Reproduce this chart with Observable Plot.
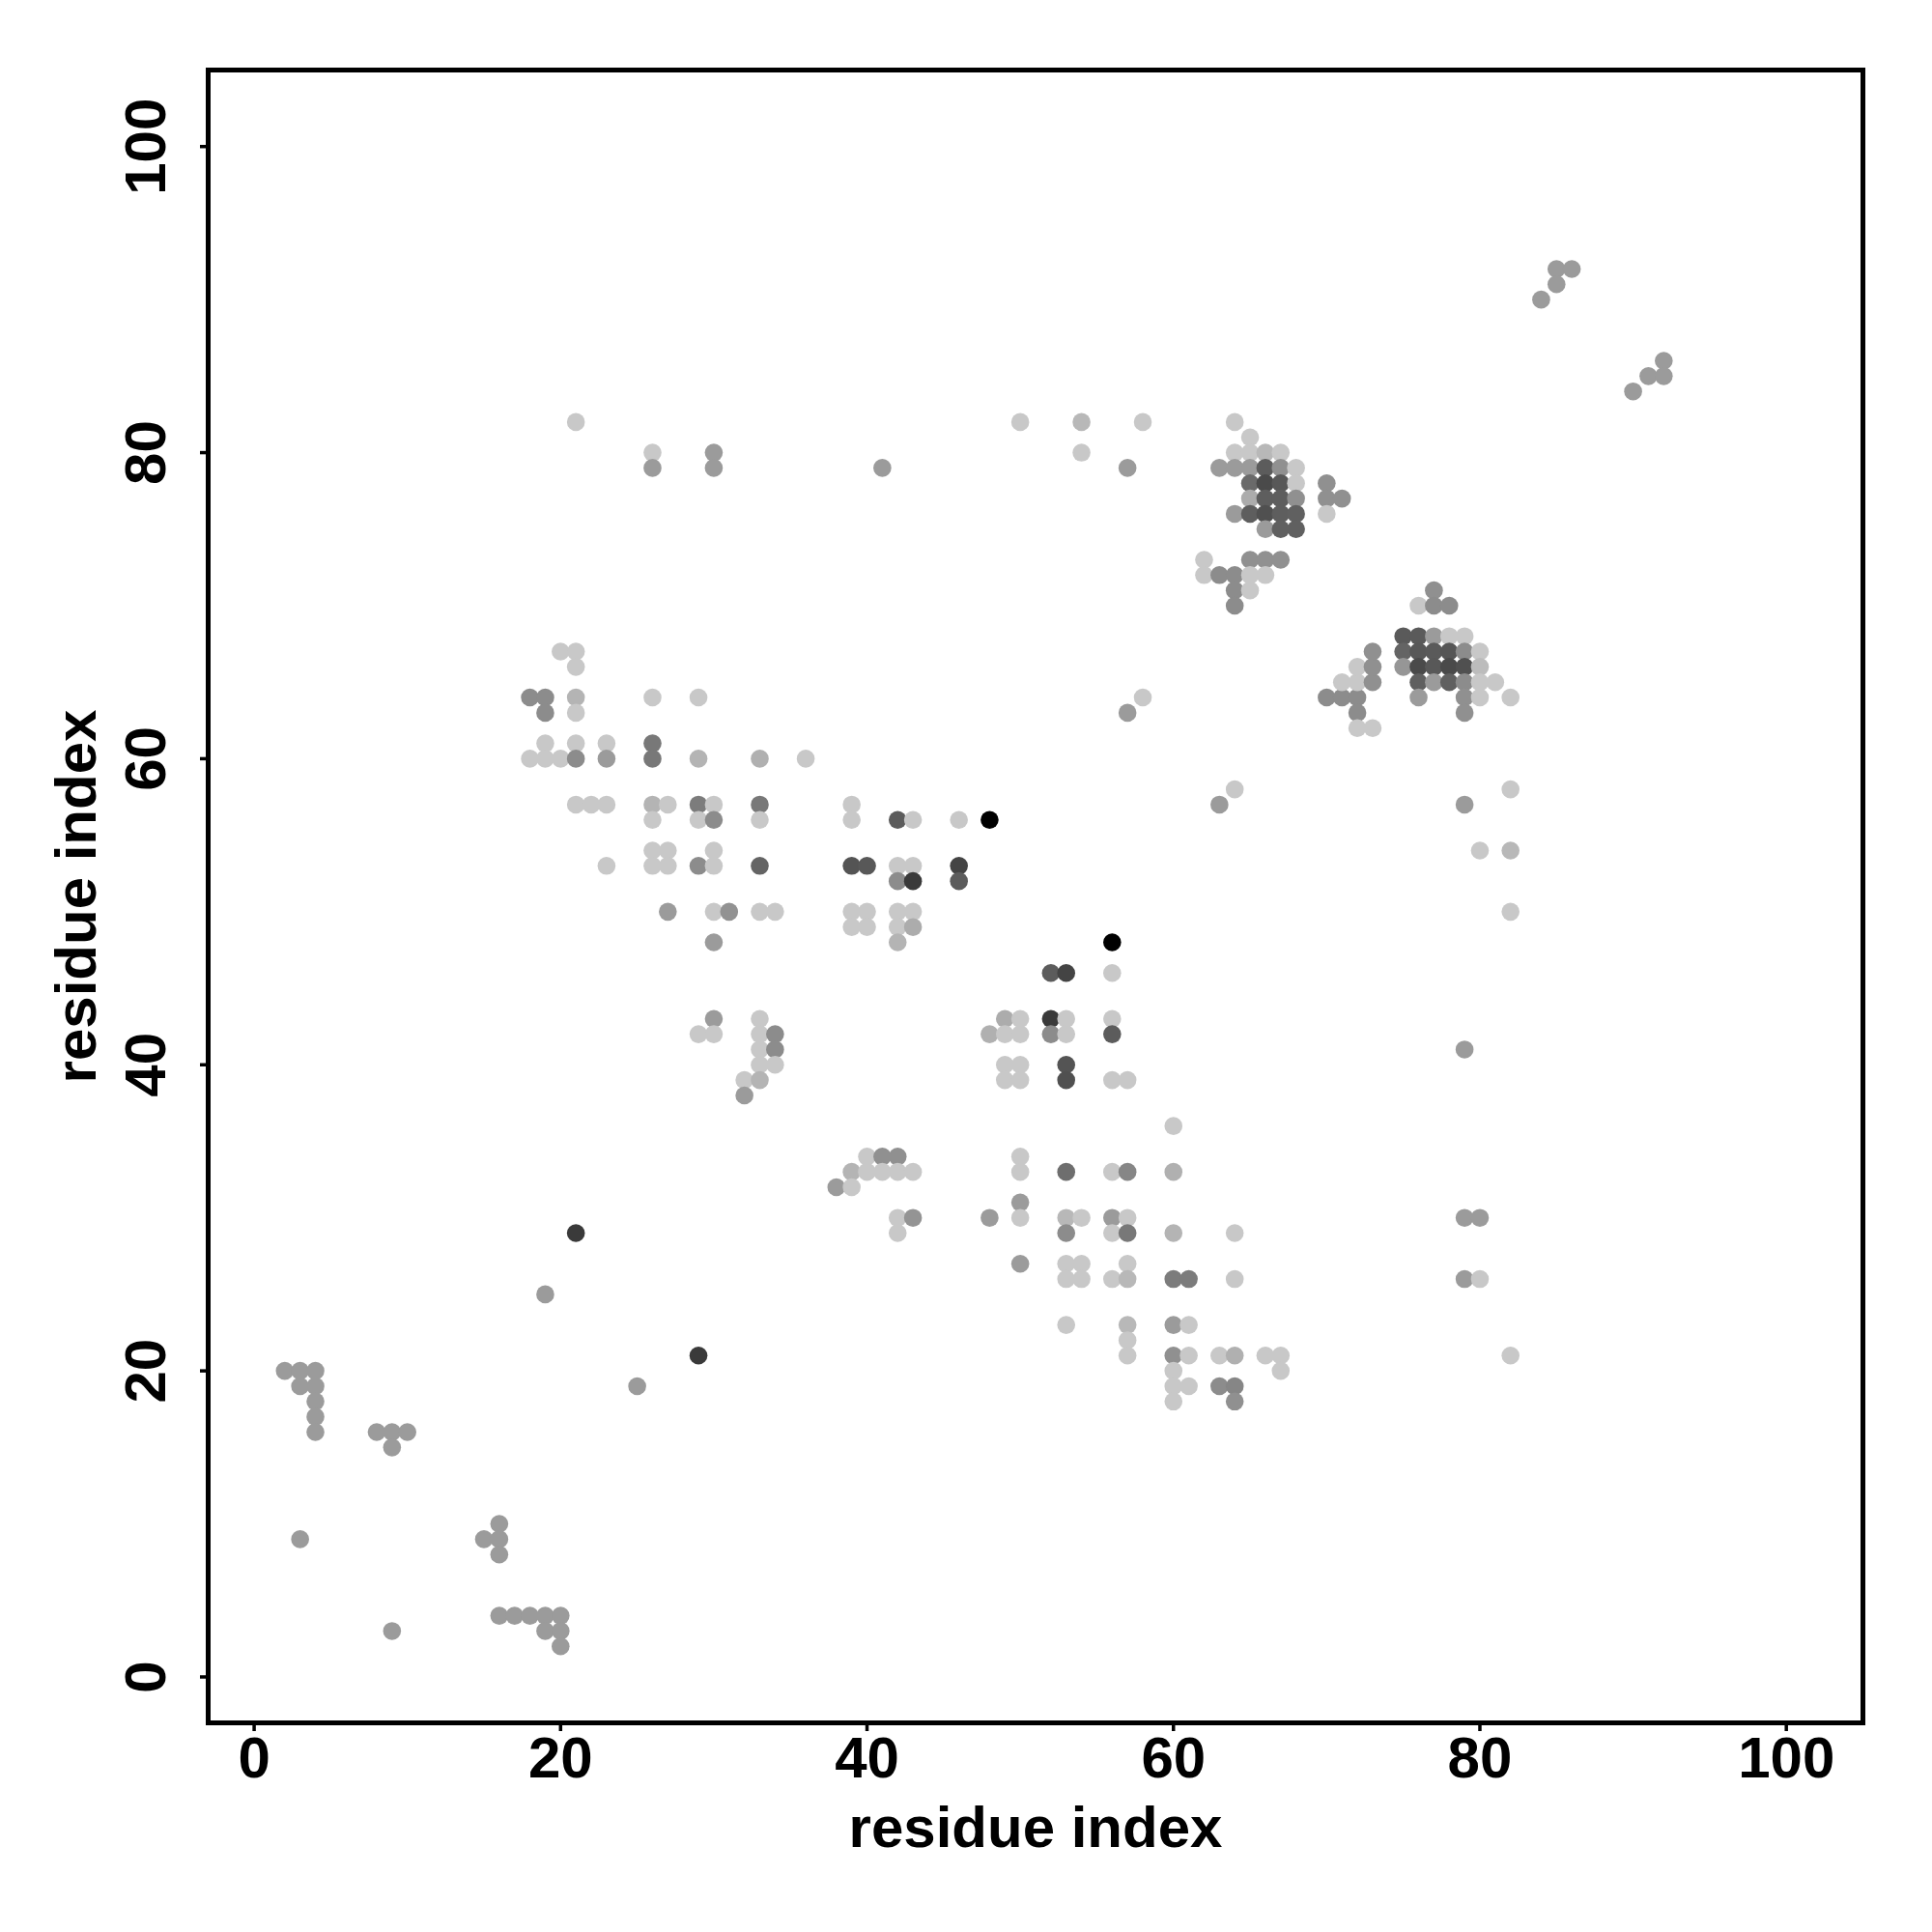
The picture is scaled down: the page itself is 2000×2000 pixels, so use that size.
<!DOCTYPE html>
<html><head><meta charset="utf-8">
<script src="https://cdn.jsdelivr.net/npm/d3@7"></script>
<script src="https://cdn.jsdelivr.net/npm/@observablehq/plot@0.6"></script>
<style>body{margin:0;background:#fff}</style>
</head><body><div id="chart"></div>
<script>
// [residue i, residue j, contact score]
const lowLeft = [[2,20,.225],[3,20,.225],[4,20,.225],[3,19,.225],[4,19,.225],[4,18,.225],[4,17,.225],[4,16,.225],
[8,16,.225],[9,16,.225],[10,16,.225],[9,15,.225],[19,25,.225],[21,29,.71],[25,19,.225],[29,21,.71],
[3,9,.225],[16,10,.225],[15,9,.225],[16,9,.225],[16,8,.225],
[9,3,.225],[16,4,.225],[17,4,.225],[18,4,.225],[19,4,.225],[20,4,.225],[19,3,.225],[20,3,.225],[20,2,.225]];
const leftMid = [[20,67,0],[21,67,0],[21,66,0],
[18,64,.3],[19,64,.3],[19,63,.3],[21,64,.1],[21,63,0],[26,64,0],[29,64,0],
[19,61,0],[21,61,0],[23,61,0],[26,61,.4],
[18,60,0],[19,60,0],[20,60,0],[21,60,.3],[23,60,.225],[26,60,.4],[29,60,.1],[33,60,.12],[36,60,0],
[21,57,0],[22,57,0],[23,57,0],[26,57,.1],[27,57,0],[26,56,0],[29,57,.38],[30,57,0],[29,56,0],[30,56,.3],[33,57,.4],[33,56,0],
[23,53,0],[26,54,0],[27,54,0],[26,53,0],[27,53,0],[30,54,0],[29,53,.3],[30,53,0],[33,53,.5],
[27,50,.225],[30,50,0],[31,50,.27],[33,50,0],[34,50,0],[30,48,.225],
[30,43,.225],[29,42,0],[30,42,0],[33,43,0],[33,42,0],[34,42,.3],[33,41,0],[34,41,.3],[33,40,0],[34,40,0],[32,39,0],[33,39,.1],[32,38,.225]];
const center = [[57,63,.225],[58,64,0],
[39,57,0],[39,56,0],[42,56,.54],[43,56,0],[46,56,0],[48,56,1],
[39,53,.58],[40,53,.56],[42,53,0],[43,53,0],[42,52,.3],[43,52,.71],[46,53,.66],[46,52,.54],
[39,50,0],[40,50,0],[39,49,0],[40,49,0],[42,50,0],[43,50,0],[42,49,0],[43,49,.14],[42,48,.1],
[56,48,1],[52,46,.54],[53,46,.66],[56,46,0],
[49,43,.14],[50,43,0],[48,42,.12],[49,42,0],[50,42,0],[52,43,.71],[53,43,0],[52,42,.3],[53,42,0],[56,43,0],[56,42,.54],
[49,40,0],[50,40,0],[53,40,.58]];
const lowMid = [[49,39,0],[50,39,0],[53,39,.6],[56,39,0],[57,39,0],[60,36,0],
[40,34,0],[41,34,.28],[42,34,.28],[39,33,.1],[40,33,0],[41,33,0],[42,33,0],[43,33,0],[38,32,.225],[39,32,0],
[50,34,0],[50,33,0],[53,33,.45],[56,33,0],[57,33,.33],[60,33,.12],
[42,30,0],[43,30,.26],[42,29,0],[48,30,.225],[50,31,.225],[50,30,0],[53,30,.08],[54,30,0],[53,29,.3],[56,30,.225],[57,30,0],[56,29,0],[57,29,.4],[60,29,.1],[64,29,0],
[50,27,.225],[53,27,0],[54,27,0],[53,26,0],[54,26,0],[57,27,0],[56,26,0],[57,26,.08],[60,26,.38],[61,26,.38],[64,26,0],
[53,23,0],[57,23,.08],[57,22,0],[57,21,0],[60,23,.225],[61,23,0],[60,21,.28],[61,21,0],[63,21,0],[64,21,.12],[66,21,0],[67,21,0],[67,20,0],
[60,20,0],[60,19,0],[61,19,0],[60,18,0],[63,19,.3],[64,19,.33],[64,18,.28]];
const rightScatter = [[79,41,.225],[79,30,.225],[80,30,.225],[79,26,.225],[80,26,0],[82,21,0],
[82,58,0],[79,57,.225],[80,54,0],[82,54,.08],[82,50,0],[63,57,.225],[64,58,0]];
const upperCluster = [[58,82,0],[57,79,.225],[64,82,0],[65,81,0],[64,80,0],[65,80,0],[66,80,.08],[67,80,0],
[63,79,.225],[64,79,.225],[65,79,.225],[66,79,.54],[67,79,.28],[68,79,0],
[65,78,.47],[66,78,.63],[67,78,.56],[68,78,0],
[65,77,.14],[66,77,.53],[67,77,.53],[68,77,.28],
[64,76,.225],[65,76,.53],[66,76,.6],[67,76,.53],[68,76,.52],
[66,75,.225],[67,75,.52],[68,75,.52],
[70,78,.28],[70,77,.28],[71,77,.28],[70,76,0],
[62,73,0],[62,72,0],[63,72,.3],[64,72,.3],[65,73,.28],[66,73,.28],[67,73,.28],[65,72,0],[66,72,0],[64,71,.3],[65,71,0],[64,70,.3]];
const rightCluster = [[70,64,.3],[71,64,.3],[72,64,.3],[72,63,.3],[72,62,0],[73,62,0],[71,65,0],[72,65,0],[72,66,0],[73,65,.28],[73,66,.28],[73,67,.28],
[75,68,.55],[75,67,.5],[75,66,.25],
[77,71,.28],[76,70,0],[77,70,.3],[78,70,.3],
[76,68,.55],[77,68,.225],[78,68,0],[79,68,0],
[76,67,.56],[77,67,.55],[78,67,.57],[79,67,.3],[80,67,0],
[76,66,.63],[77,66,.56],[78,66,.63],[79,66,.6],[80,66,.06],
[76,65,.52],[77,65,.225],[78,65,.52],[79,65,.3],[80,65,0],[81,65,0],
[76,64,.225],[79,64,.28],[80,64,0],[82,64,0],[79,63,.28]];
const topRow = [[21,82,0],[26,80,0],[26,79,.225],[30,80,.225],[30,79,.225],[41,79,.225],[50,82,0],[54,82,.08],[54,80,0]];
const farRight = [[85,92,.225],[86,92,.225],[85,91,.225],[84,90,.225],[92,86,.225],[91,85,.225],[92,85,.225],[90,84,.225]];

const xTicks = [0, 20, 40, 60, 80, 100];
const yTicks = [0, 20, 40, 60, 80, 100];
const xTitle = "residue index";
const yTitle = "residue index";

const data = [lowLeft, leftMid, center, lowMid, rightScatter, upperCluster, rightCluster, topRow, farRight]
  .flat().map(([i, j, score]) => ({i, j, score}));

const font = "'Liberation Sans', Arial, Helvetica, sans-serif";
const chart = Plot.plot({
  width: 2000, height: 2000,
  marginLeft: 215, marginRight: 72, marginTop: 72, marginBottom: 217,
  x: {domain: [-3, 105]},
  y: {domain: [-3, 105]},
  color: {type: "linear", domain: [0, 1], range: ["#c8c8c8", "#000000"]},
  style: {fontFamily: font, background: "white", color: "black"},
  marks: [
    Plot.dot(data, {x: "i", y: "j", r: 9.3, fill: "score"}),
    Plot.frame({stroke: "black", strokeWidth: 5}),
    Plot.axisX(xTicks, {tickSize: 9, tickPadding: 5, strokeWidth: 3.5, fontSize: 60, fontWeight: "bold", fill: "black", label: null}),
    Plot.axisY(yTicks, {tickSize: 8, strokeWidth: 3.5, fill: "none", label: null}),
    Plot.text(yTicks, {y: d => d, text: d => String(d), frameAnchor: "left", dx: -64, rotate: -90,
      textAnchor: "middle", lineAnchor: "middle", fontSize: 60, fontWeight: "bold", fill: "black"}),
    Plot.text([xTitle], {frameAnchor: "bottom", dy: 109, textAnchor: "middle", lineAnchor: "middle", fontSize: 60, fontWeight: "bold", fill: "black"}),
    Plot.text([yTitle], {frameAnchor: "left", dx: -136, rotate: -90, textAnchor: "middle", lineAnchor: "middle", fontSize: 60, fontWeight: "bold", fill: "black"})
  ]
});
document.getElementById("chart").appendChild(chart);
</script>
</body></html>
